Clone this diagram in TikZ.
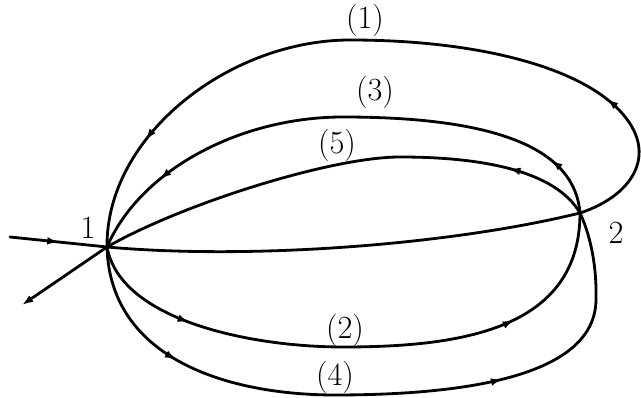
\documentclass[tikz,border=0pt]{standalone}
\usetikzlibrary{arrows.meta, decorations.markings}
\tikzset{
  every picture/.style={line width=2pt},
  orbit/.style={draw=black, line cap=round},
  flow/.style={postaction={decorate, decoration={markings, mark=at position #1 with {\arrow{Latex[length=8pt,width=5.5pt]}}}}},
  lbl/.style={font=\fontsize{23}{27}\selectfont, inner sep=1pt},
}
\begin{document}
\begin{tikzpicture}[x=0.025cm, y=-0.025cm]
  \useasboundingbox (0,0) rectangle (641,398);
  % fixed points and free ends
  \coordinate (p1) at (107,247);
  \coordinate (p2) at (580,213);
  \coordinate (in) at (10,237);
  \coordinate (out) at (22,305);
  \node[lbl] (n1) at (88,228) {1};
  \node[lbl] (n2) at (616,233) {2};
  % in and out
  \draw[orbit, flow=0.5] (in) -- (p1);
  \draw[orbit, -{Latex[length=8pt,width=5.5pt]}] (p1) -- (out);
  % chord 1-2
  \draw[orbit] (p1) .. controls (250,260) and (450,245) .. (p2);
  % upper loops, 2 -> 1
  \draw[orbit, flow=0.2, flow=0.85] (p2) .. controls (635,195) and (662,150) .. (615,106)
    .. controls (570,64) and (470,40) .. (350,40)
    .. controls (230,40) and (106,135) .. (p1);
  \draw[orbit, flow=0.11, flow=0.845] (p2) .. controls (575,150) and (500,117) .. (343,117)
    .. controls (240,117) and (140,170) .. (p1);
  \draw[orbit, flow=0.17] (p2) .. controls (555,170) and (480,157) .. (400,157)
    .. controls (330,157) and (180,205) .. (p1);
  % lower loops, 1 -> 2
  \draw[orbit, flow=0.2, flow=0.77] (p1) .. controls (120,320) and (250,347) .. (343,347)
    .. controls (460,347) and (580,330) .. (p2);
  \draw[orbit, flow=0.2, flow=0.68] (p1) .. controls (110,360) and (230,395) .. (335,395)
    .. controls (470,395) and (595,375) .. (596,300)
    .. controls (597,260) and (588,230) .. (p2);
  % loop labels
  \node[lbl] (l1) at (365,20) {(1)};
  \node[lbl] (l3) at (375,92) {(3)};
  \node[lbl] (l5) at (337,145) {(5)};
  \node[lbl] (l2) at (345,330) {(2)};
  \node[lbl] (l4) at (335,377) {(4)};
\end{tikzpicture}
\end{document}
